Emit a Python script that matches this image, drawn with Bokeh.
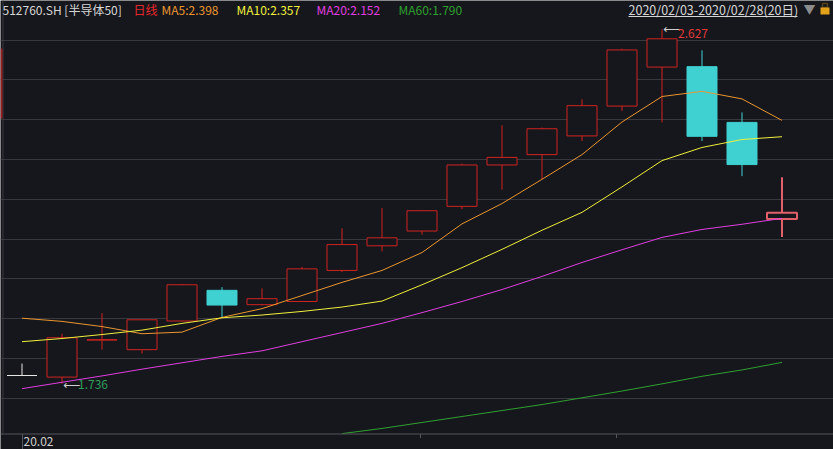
import numpy as np
from bokeh.plotting import figure
from bokeh.models import (ColumnDataSource, Range1d, FixedTicker, Grid,
                          Label, Span, BoxAnnotation)
from bokeh.core.properties import value
from bokeh.embed import file_html
from bokeh.resources import INLINE

# ---------------- data ----------------
dates = ["02-03", "02-04", "02-05", "02-06", "02-07", "02-10", "02-11", "02-12", "02-13", "02-14",
         "02-17", "02-18", "02-19", "02-20", "02-21", "02-24", "02-25", "02-26", "02-27", "02-28"]
open_ = [1.757, 1.753, 1.846, 1.822, 1.894, 1.971, 1.935, 1.943, 2.021, 2.083,
         2.120, 2.182, 2.286, 2.312, 2.359, 2.434, 2.532, 2.533, 2.393, 2.150]
high = [1.787, 1.862, 1.914, 1.897, 1.987, 1.979, 1.976, 2.030, 2.127, 2.178,
        2.172, 2.289, 2.386, 2.380, 2.451, 2.578, 2.627, 2.574, 2.418, 2.255]
low = [1.757, 1.736, 1.822, 1.812, 1.893, 1.902, 1.933, 1.942, 2.017, 2.069,
       2.111, 2.175, 2.224, 2.251, 2.346, 2.422, 2.393, 2.346, 2.258, 2.105]
close = [1.757, 1.852, 1.847, 1.897, 1.985, 1.934, 1.950, 2.025, 2.086, 2.103,
         2.171, 2.286, 2.305, 2.377, 2.435, 2.575, 2.603, 2.358, 2.287, 2.166]
ma5 = [1.901, 1.893, 1.880, 1.862, 1.866, 1.903, 1.925, 1.958, 1.991, 2.021,
       2.066, 2.138, 2.189, 2.250, 2.312, 2.394, 2.458, 2.471, 2.452, 2.398]
ma10 = [1.842, 1.850, 1.860, 1.871, 1.888, 1.902, 1.909, 1.918, 1.929, 1.944,
        1.985, 2.028, 2.074, 2.122, 2.167, 2.231, 2.297, 2.330, 2.350, 2.357]
ma20 = [1.724, 1.740, 1.756, 1.773, 1.789, 1.805, 1.819, 1.842, 1.865, 1.888,
        1.915, 1.943, 1.973, 2.006, 2.041, 2.073, 2.104, 2.124, 2.137, 2.152]
ma60 = [np.nan] * 8 + [1.611, 1.624, 1.639, 1.654, 1.669, 1.684, 1.701, 1.718,
                       1.736, 1.755, 1.771, 1.790]
grid_levels = [1.7, 1.8, 1.9, 2.0, 2.1, 2.2, 2.3, 2.4, 2.5, 2.6]
title_text = "512760.SH [半导体50]"
period_text = "日线"
range_text = "2020/02/03-2020/02/28(20日)"
month_label = "20.02"

# ---------------- styling / layout (pixels) ----------------
W, H = 833, 449
AXIS_PY = 433.5
BG = "#16171c"
GRID = "#38393e"
AXIS = "#55565a"
UP = "#d0231f"
DOWN = "#3fd0d2"
FLAT = "#e6e6e6"
LAST = "#e2606a"
C_MA5, C_MA10, C_MA20, C_MA60 = "#ea9630", "#f0f03c", "#e03ee0", "#2fa02f"
FONT = "Noto Sans CJK SC"

X0, X1 = -21.5 / 40, (W - 21.5) / 40
Y1 = 2.6 + 39.5 / 398
Y0 = 2.6 - (H - 39.5) / 398


def sx(px):
    return X0 + px / W * (X1 - X0)


def sy(py):
    return Y1 - py / H * (Y1 - Y0)


n = len(close)
idx = list(range(n))
line_c, fill_c, wick_c, lw = [], [], [], []
for i in idx:
    if close[i] > open_[i]:
        c, f = UP, BG
    elif close[i] < open_[i]:
        c, f = DOWN, DOWN
    else:
        c, f = FLAT, BG
    w = 1
    if i == n - 1:
        c, w = LAST, 2
    line_c.append(c)
    fill_c.append(f)
    wick_c.append(c)
    lw.append(w)

src = ColumnDataSource(dict(
    x=idx, open=open_, high=high, low=low, close=close,
    top=[max(o, c) for o, c in zip(open_, close)],
    bottom=[min(o, c) for o, c in zip(open_, close)],
    line=line_c, fill=fill_c, wick=wick_c, lw=lw,
))

p = figure(width=W, height=H, x_range=Range1d(X0, X1), y_range=Range1d(Y0, Y1),
           output_backend="svg", toolbar_location=None,
           x_axis_type=None, y_axis_type=None, min_border=0,
           background_fill_color=BG, border_fill_color=BG, outline_line_color=None)

# grid
p.add_layout(Grid(dimension=1, ticker=FixedTicker(ticks=grid_levels),
                  grid_line_color=GRID, grid_line_width=1), "center")

# bottom axis line and ticks
p.add_layout(Span(location=sy(AXIS_PY), dimension="width", line_color=AXIS, line_width=1))
for (px, length) in [(22, 16), (420, 4), (616, 4)]:
    p.add_layout(BoxAnnotation(left=sx(px - 0.5), right=sx(px + 0.5),
                               top=sy(AXIS_PY), bottom=sy(AXIS_PY + length),
                               fill_color=AXIS, fill_alpha=1, line_color=None))

# left border
p.add_layout(BoxAnnotation(left=sx(2), right=sx(3), top=sy(0), bottom=sy(AXIS_PY),
                           fill_color=GRID, fill_alpha=1, line_color=None))
p.add_layout(BoxAnnotation(left=sx(0), right=sx(2), top=sy(48), bottom=sy(118),
                           fill_color="#9b1c1c", fill_alpha=1, line_color=None))

# candles
p.segment(x0="x", y0="high", x1="x", y1="low", line_color="wick", line_width="lw", source=src)
p.vbar(x="x", width=0.75, top="top", bottom="bottom", fill_color="fill",
       line_color="line", line_width="lw", source=src)

# moving averages
p.line(idx, ma5, line_color=C_MA5, line_width=1)
p.line(idx, ma10, line_color=C_MA10, line_width=1)
p.line(idx, ma20, line_color=C_MA20, line_width=1)
p.line(idx, ma60, line_color=C_MA60, line_width=1)

# extreme markers
hi_i = int(np.argmax(high))
lo_i = int(np.argmin(low))
ext = ColumnDataSource(dict(
    x=[hi_i, lo_i], y=[high[hi_i], low[lo_i]],
    num=[f"{high[hi_i]:.3f}", f"{low[lo_i]:.3f}"],
    arrow=["⟵", "⟵"], color=["#e03a3a", "#2e9e5e"],
    yo=[4, 1], yoa=[0, 1],
))
p.text(x="x", y="y", text="arrow", x_offset=1, y_offset="yoa", text_align="left",
       text_baseline="middle", text_color="#cfcfcf", text_font=value("DejaVu Sans"),
       text_font_size="12px", source=ext)
p.text(x="x", y="y", text="num", x_offset=16, y_offset="yo", text_align="left",
       text_baseline="middle", text_color="color", text_font=value(FONT),
       text_font_size="12px", source=ext)

# header
header = [
    (2, title_text, "#d6d6d6"),
    (133, period_text, "#e8262a"),
    (161, f"MA5:{ma5[-1]:.3f}", C_MA5),
    (236, f"MA10:{ma10[-1]:.3f}", C_MA10),
    (316, f"MA20:{ma20[-1]:.3f}", C_MA20),
    (398, f"MA60:{ma60[-1]:.3f}", C_MA60),
]
for px, txt, col in header:
    p.add_layout(Label(x=sx(px), y=sy(9), text=txt, text_align="left", text_baseline="middle",
                       text_font=FONT, text_font_size="12px", text_color=col))
p.add_layout(Label(x=sx(628), y=sy(9), text=range_text, text_align="left", text_baseline="middle",
                   text_font=FONT, text_font_size="12.5px", text_color="#d6d6d6"))
p.add_layout(BoxAnnotation(left=sx(628), right=sx(797), top=sy(15.5), bottom=sy(16.5),
                           fill_color="#d6d6d6", fill_alpha=1, line_color=None))
p.add_layout(Label(x=sx(803), y=sy(8), text="▼", text_align="left", text_baseline="middle",
                   text_font=FONT, text_font_size="12px", text_color="#8c8c8c"))
p.add_layout(BoxAnnotation(left=sx(820), right=sx(829), top=sy(7), bottom=sy(14),
                           fill_color="#e3a21a", fill_alpha=1, line_color=None))
p.add_layout(BoxAnnotation(left=sx(822), right=sx(827), top=sy(3), bottom=sy(7),
                           fill_color=None, line_color="#e3a21a", line_width=1.5))

# month label below axis
p.add_layout(Label(x=sx(23), y=sy(441), text=month_label, text_align="left",
                   text_baseline="middle", text_font=FONT, text_font_size="12px",
                   text_color="#cfcfcf"))

open("out.html", "w").write(file_html(p, INLINE))
